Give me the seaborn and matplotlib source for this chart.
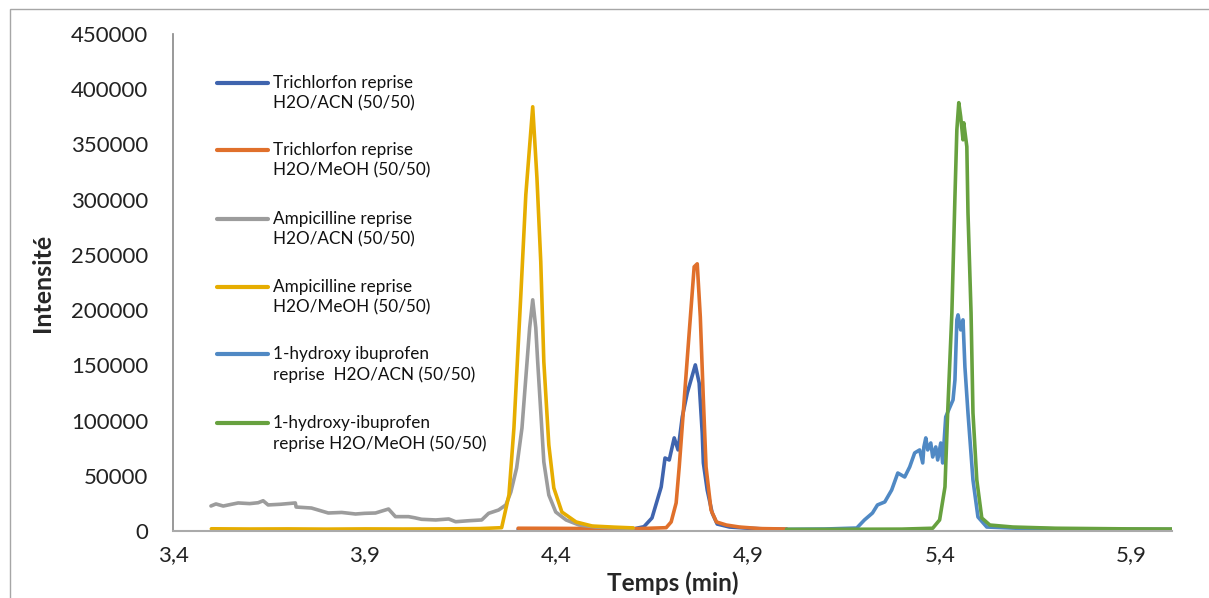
import numpy as np
import pandas as pd
import seaborn as sns
import matplotlib.pyplot as plt
from matplotlib.lines import Line2D
from matplotlib.patches import Rectangle

# series (temps en min, intensité)
tri_acn_t = [4.30, 4.40, 4.50, 4.60, 4.628, 4.649, 4.673, 4.683, 4.694, 4.707, 4.717, 4.728,
             4.741, 4.762, 4.772, 4.780, 4.783, 4.793, 4.806, 4.819, 4.851, 4.90, 4.95, 5.00]
tri_acn_i = [1500, 1500, 1600, 1800, 3900, 11800, 39900, 66100, 64300, 84300, 73400, 103300,
             125000, 150400, 134100, 88800, 61600, 37100, 16300, 6300, 3600, 2500, 1800, 1500]

tri_meoh_t = [4.30, 4.40, 4.50, 4.60, 4.686, 4.699, 4.712, 4.720, 4.733, 4.746, 4.759, 4.767,
              4.775, 4.783, 4.790, 4.803, 4.817, 4.843, 4.877, 4.93, 5.00]
tri_meoh_i = [2500, 2400, 2200, 2000, 3000, 8200, 25400, 58000, 118700, 179400, 239200, 241900,
              193900, 118700, 58000, 19000, 8200, 5400, 3600, 2200, 1800]

amp_acn_t = [3.499, 3.512, 3.531, 3.550, 3.570, 3.600, 3.622, 3.635, 3.648, 3.680, 3.719, 3.721,
             3.761, 3.805, 3.840, 3.876, 3.900, 3.928, 3.962, 3.980, 4.014, 4.030, 4.048, 4.085,
             4.119, 4.137, 4.171, 4.205, 4.223, 4.249, 4.268, 4.281, 4.296, 4.310, 4.320, 4.330,
             4.338, 4.346, 4.351, 4.359, 4.367, 4.380, 4.398, 4.425, 4.459, 4.503, 4.55, 4.60]
amp_acn_i = [22650, 24500, 22600, 24000, 25400, 24800, 25600, 27400, 23600, 24200, 25400, 21700,
             20800, 16300, 16800, 15400, 16000, 16300, 19900, 13000, 13000, 12000, 10600, 10000,
             10900, 8400, 9300, 10000, 16000, 19000, 23600, 35300, 57000, 93300, 138600, 184000,
             209300, 184000, 153000, 107800, 62500, 32600, 17200, 10000, 5400, 3600, 2800, 2400]

amp_meoh_t = [3.50, 3.60, 3.70, 3.80, 3.90, 4.00, 4.10, 4.20, 4.257, 4.276, 4.289, 4.307, 4.320,
              4.338, 4.349, 4.359, 4.367, 4.380, 4.393, 4.414, 4.451, 4.493, 4.55, 4.60]
amp_meoh_i = [2000, 1800, 1900, 1700, 1900, 1800, 1900, 2200, 3000, 32600, 93300, 213800, 304400,
              384100, 319800, 243700, 153100, 77900, 39000, 17200, 8200, 4500, 3500, 2800]

ibu_acn_t = [5.00, 5.10, 5.183, 5.203, 5.224, 5.237, 5.256, 5.274, 5.290, 5.308, 5.321, 5.334,
             5.347, 5.355, 5.358, 5.363, 5.368, 5.376, 5.381, 5.389, 5.394, 5.402, 5.407, 5.415,
             5.426, 5.434, 5.439, 5.444, 5.447, 5.454, 5.460, 5.465, 5.473, 5.486, 5.499, 5.522,
             5.60, 5.70, 5.80, 5.90, 6.005]
ibu_acn_i = [1500, 1800, 2700, 10000, 16300, 23600, 26300, 37100, 52500, 48900, 58000, 70700,
             73400, 61600, 76100, 84300, 73400, 79700, 67000, 76100, 64300, 79700, 61600, 103300,
             112300, 118700, 136800, 191200, 195700, 182100, 191200, 148600, 106900, 46200, 12700, 3600,
             2500, 2000, 1800, 1600, 1500]

ibu_meoh_t = [5.00, 5.10, 5.20, 5.30, 5.381, 5.399, 5.413, 5.420, 5.431, 5.439, 5.444, 5.449,
              5.454, 5.460, 5.462, 5.470, 5.473, 5.481, 5.486, 5.496, 5.509, 5.530, 5.590,
              5.70, 5.80, 5.90, 6.005]
ibu_meoh_i = [1500, 1500, 1600, 1700, 2500, 10000, 39900, 106900, 197500, 302600, 363300, 387800,
              375100, 354200, 369600, 348000, 288100, 197500, 106900, 46200, 11800, 5400, 3600,
              2500, 2200, 1900, 1800]

labels = ["Trichlorfon reprise\nH2O/ACN (50/50)",
          "Trichlorfon reprise\nH2O/MeOH (50/50)",
          "Ampicilline reprise\nH2O/ACN (50/50)",
          "Ampicilline reprise\nH2O/MeOH (50/50)",
          "1-hydroxy ibuprofen\nreprise  H2O/ACN (50/50)",
          "1-hydroxy-ibuprofen\nreprise H2O/MeOH (50/50)"]
colors = ["#3F64AE", "#E0702B", "#9C9C9C", "#E6AD00", "#5089C4", "#67A13F"]

xticks = [3.4, 3.9, 4.4, 4.9, 5.4, 5.9]
xtick_labels = ["3,4", "3,9", "4,4", "4,9", "5,4", "5,9"]
yticks = list(range(0, 450001, 50000))

series = [(tri_acn_t, tri_acn_i), (tri_meoh_t, tri_meoh_i), (amp_acn_t, amp_acn_i),
          (amp_meoh_t, amp_meoh_i), (ibu_acn_t, ibu_acn_i), (ibu_meoh_t, ibu_meoh_i)]
frames = []
for lab, (t, i) in zip(labels, series):
    frames.append(pd.DataFrame({"temps": t, "intensite": i, "serie": lab}))
df = pd.concat(frames, ignore_index=True)

sns.set_theme(style="white")
plt.rcParams['font.family'] = ['Lato', 'DejaVu Sans']

W, H = 1209, 598
fig = plt.figure(figsize=(W / 100, H / 100), dpi=100)
ax = fig.add_axes([173 / W, 1 - 531 / H, (1172 - 173) / W, (531 - 34) / H])

sns.lineplot(data=df, x="temps", y="intensite", hue="serie", hue_order=labels,
             palette=colors, sort=False, estimator=None, legend=False, lw=2.6, ax=ax)

ax.set_xlim(3.4, 6.005)
ax.set_ylim(0, 450000)
ax.set_xticks(xticks)
ax.set_xticklabels(xtick_labels, fontsize=16, color="#222222")
ax.set_yticks(yticks)
ax.set_yticklabels([str(v) for v in yticks], fontsize=16, color="#222222")
ax.tick_params(axis="both", direction="out", length=5, width=1, color="#9A9A9A")
ax.tick_params(axis="y", pad=13)
ax.tick_params(axis="x", pad=5)
for s in ["top", "right"]:
    ax.spines[s].set_visible(False)
ax.spines["left"].set_color("#8C8C8C")
ax.spines["bottom"].set_color("#AAAAAA")
ax.spines["bottom"].set_linewidth(1.5)
ax.set_xlabel("Temps (min)", fontsize=17.5, fontweight="bold", labelpad=5)
ax.set_ylabel("Intensité", fontsize=18, fontweight="bold", labelpad=12)

# legend drawn by hand so the line sits on the first text line, as in the original
leg_y = [83, 150, 219, 287, 354, 423]
for lab, col, yy in zip(labels, colors, leg_y):
    fig.add_artist(Line2D([217 / W, 268 / W], [1 - yy / H, 1 - yy / H], color=col, lw=3))
    fig.text(273 / W, 1 - (yy - 8) / H, lab, fontsize=12.3, va="top", ha="left",
             color="#111111", linespacing=1.3)

# outer chart border
fig.add_artist(Rectangle((10 / W, -0.1), 1.2, 1 - 9 / H + 0.1, transform=fig.transFigure,
                         fill=False, edgecolor="#A6A6A6", lw=1))

fig.savefig("out.png", dpi=100)
